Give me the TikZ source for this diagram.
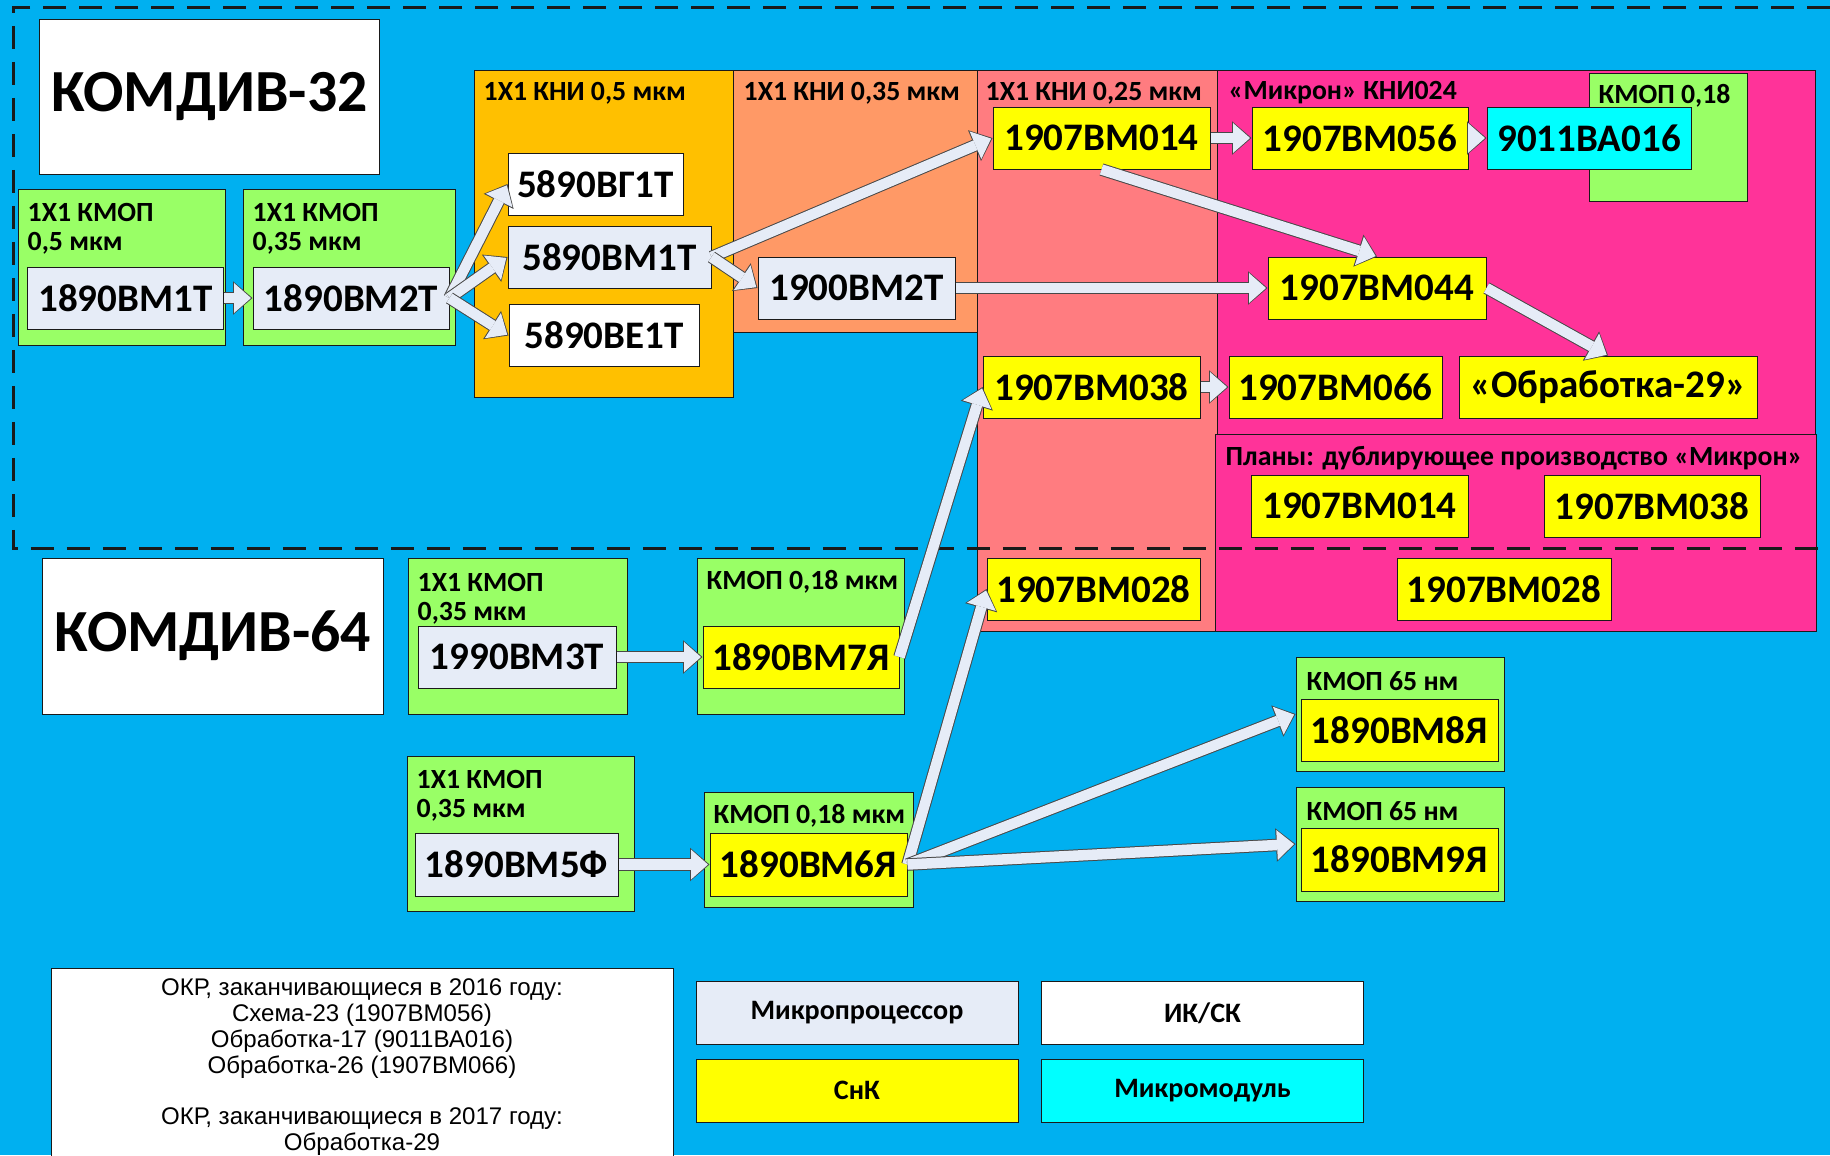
\documentclass[tikz,border=0pt]{standalone}
\usepackage{fontspec}
\setmainfont{Carlito}
\newfontfamily\notefamily{Liberation Sans}
\usetikzlibrary{arrows.meta}

\definecolor{sky}{HTML}{00B0F0}
\definecolor{kmop}{HTML}{99FF66}
\definecolor{cpu}{HTML}{E6ECF7}
\definecolor{kniA}{HTML}{FFC000}
\definecolor{kniB}{HTML}{FF9966}
\definecolor{kniC}{HTML}{FF7C80}
\definecolor{mikron}{HTML}{FF3399}
\definecolor{snk}{HTML}{FFFF00}
\definecolor{module}{HTML}{00FFFF}
\definecolor{edge}{HTML}{1A1A1A}

\newcommand\chipfont{\fontsize{11.1}{12}\selectfont\bfseries}
\newcommand\tagfont{\fontsize{7.9}{9}\selectfont\bfseries}
\newcommand\keyfont{\fontsize{8}{9}\selectfont\bfseries}
\newcommand\titlefont{\fontsize{17}{19}\selectfont\bfseries}
\newcommand\notefont{\notefamily\fontsize{6.85}{7.35}\selectfont}

\tikzset{
  zone/.style={draw=edge, line width=0.1mm, inner sep=0pt},
  chip/.style={draw=edge, line width=0.1mm, minimum height=6.2mm, inner sep=0pt, font=\chipfont},
  tag/.style={anchor=west, inner sep=0pt, font=\tagfont},
  key/.style={draw=edge, line width=0.1mm, minimum width=32.2mm, minimum height=6.3mm, font=\keyfont},
  flow/.style={draw=cpu, line width=1.05mm, shorten >=0.15mm,
    -{Triangle[length=1.7mm, width=3mm, line width=0pt]},
    preaction={draw=edge!80, line width=1.25mm, shorten >=0mm,
      -{Triangle[length=1.95mm, width=3.35mm, line width=0pt]}}},
}

\begin{document}
\begin{tikzpicture}[x=0.1mm, y=-0.1mm]
  \useasboundingbox (0,0) rectangle (1830,1155);
  \fill[sky] (0,0) rectangle (1830,1155);

  % Zonas de tecnologia
  \node[zone, fill=kniA, minimum width=25.9mm, minimum height=32.7mm] (box05) at (603.5,233.5) {};
  \node[zone, fill=kniB, minimum width=24.5mm, minimum height=26.2mm] (box035) at (855.5,201) {};
  \node[zone, fill=kniC, minimum width=24.0mm, minimum height=56.1mm] (box025) at (1097,350.5) {};
  \node[zone, fill=mikron, minimum width=59.8mm, minimum height=36.4mm] (boxmik) at (1516,252) {};
  \node[zone, fill=mikron, minimum width=60.1mm, minimum height=19.7mm] (boxplan) at (1515.5,532.5) {};
  \node[zone, fill=kmop, minimum width=15.8mm, minimum height=12.8mm] (boxk018) at (1668,137) {};

  \node[tag] at (483,93) {1X1 КНИ 0,5 мкм};
  \node[tag] at (743,93) {1X1 КНИ 0,35 мкм};
  \node[tag] at (985,93) {1X1 КНИ 0,25 мкм};
  \node[tag] at (1228,93) {«Микрон» КНИ024};
  \node[tag] at (1598,96) {КМОП 0,18};
  \node[tag] at (1225,458) {Планы: дублирующее производство «Микрон»};

  % КОМДИВ-32
  \node[zone, fill=white, minimum width=34.1mm, minimum height=15.5mm, font=\titlefont] (kd32) at (209.5,96.5) {КОМДИВ-32};
  \node[zone, fill=kmop, minimum width=20.8mm, minimum height=15.6mm] (gr1) at (122,267) {};
  \node[zone, fill=kmop, minimum width=21.2mm, minimum height=15.6mm] (gr2) at (349,267) {};
  \node[tag] at (27,212) {1X1 КМОП};
  \node[tag] at (27,243) {0,5 мкм};
  \node[tag] at (252,212) {1X1 КМОП};
  \node[tag] at (252,243) {0,35 мкм};

  \node[chip, fill=cpu, minimum width=19.7mm] (bm1t) at (125.5,298) {1890ВМ1Т};
  \node[chip, fill=cpu, minimum width=19.6mm] (bm2t) at (351,298) {1890ВМ2Т};
  \node[chip, fill=white, minimum width=17.5mm] (vg1t) at (595.5,184) {5890ВГ1Т};
  \node[chip, fill=cpu, minimum width=20.3mm] (v5m1t) at (609.5,257) {5890ВМ1Т};
  \node[chip, fill=white, minimum width=19.0mm] (ve1t) at (604,335.5) {5890ВЕ1Т};
  \node[chip, fill=cpu, minimum width=19.7mm] (v1900) at (856.5,288) {1900ВМ2Т};
  \node[chip, fill=snk, minimum width=21.7mm] (v014) at (1101.5,138) {1907ВМ014};
  \node[chip, fill=snk, minimum width=21.6mm] (v056) at (1360,138) {1907ВМ056};
  \node[chip, fill=module, minimum width=20.4mm] (v016) at (1589,138) {9011ВА016};
  \node[chip, fill=snk, minimum width=21.8mm] (v044) at (1377,288) {1907ВМ044};
  \node[chip, fill=snk, minimum width=21.7mm] (v038) at (1091.5,387) {1907ВМ038};
  \node[chip, fill=snk, minimum width=21.3mm] (v066) at (1335.5,387) {1907ВМ066};
  \node[chip, fill=snk, minimum width=29.8mm] (obr29) at (1608,387) {«Обработка-29»};
  \node[chip, fill=snk, minimum width=21.7mm] (p014) at (1359.5,506) {1907ВМ014};
  \node[chip, fill=snk, minimum width=21.6mm] (p038) at (1652,506) {1907ВМ038};
  \node[chip, fill=snk, minimum width=21.3mm] (v028a) at (1093.5,589) {1907ВМ028};
  \node[chip, fill=snk, minimum width=21.4mm] (v028b) at (1504,589) {1907ВМ028};

  % Granica
  \draw[edge, line width=0.3mm, dash pattern=on 2.3mm off 1.3mm] (1830,7) -- (13,7) -- (13,548) -- (1825,548);

  % КОМДИВ-64
  \node[zone, fill=white, minimum width=34.2mm, minimum height=15.6mm, font=\titlefont] (kd64) at (213,636) {КОМДИВ-64};
  \node[zone, fill=kmop, minimum width=21.9mm, minimum height=15.6mm] (gr3t) at (517.5,636) {};
  \node[zone, fill=kmop, minimum width=20.7mm, minimum height=15.6mm] (gr7ya) at (800.5,636) {};
  \node[zone, fill=kmop, minimum width=22.7mm, minimum height=15.5mm] (gr5f) at (520.5,833.5) {};
  \node[zone, fill=kmop, minimum width=20.9mm, minimum height=11.5mm] (gr6ya) at (808.5,849.5) {};
  \node[zone, fill=kmop, minimum width=20.8mm, minimum height=11.4mm] (gr8ya) at (1400,714) {};
  \node[zone, fill=kmop, minimum width=20.8mm, minimum height=11.4mm] (gr9ya) at (1400,844) {};
  \node[tag] at (417,582) {1X1 КМОП};
  \node[tag] at (417,613) {0,35 мкм};
  \node[tag] at (706,582) {КМОП 0,18 мкм};
  \node[tag] at (416,779) {1X1 КМОП};
  \node[tag] at (416,810) {0,35 мкм};
  \node[tag] at (713,816) {КМОП 0,18 мкм};
  \node[tag] at (1306,681) {КМОП 65 нм};
  \node[tag] at (1306,811) {КМОП 65 нм};

  \node[chip, fill=cpu, minimum width=19.8mm] (v3t) at (517,657) {1990ВМ3Т};
  \node[chip, fill=snk, minimum width=19.6mm] (v7ya) at (801,657) {1890ВМ7Я};
  \node[chip, fill=cpu, minimum width=20.3mm, minimum height=6.3mm] (v5f) at (516.5,864.5) {1890ВМ5Ф};
  \node[chip, fill=snk, minimum width=19.7mm, minimum height=6.3mm] (v6ya) at (808.5,864.5) {1890ВМ6Я};
  \node[chip, fill=snk, minimum width=19.7mm] (v8ya) at (1399.5,730) {1890ВМ8Я};
  \node[chip, fill=snk, minimum width=19.7mm, minimum height=6.3mm] (v9ya) at (1399.5,859.5) {1890ВМ9Я};

  % Strelki
  \draw[flow] (bm1t) -- (bm2t);
  \draw[flow] (bm2t.east) -- (vg1t.west);
  \draw[flow] (bm2t.east) -- (v5m1t.west);
  \draw[flow] (bm2t.east) -- (ve1t.west);
  \draw[flow] (v5m1t.east) -- (v014.west);
  \draw[flow] (v5m1t.east) -- (v1900.west);
  \draw[flow] (v1900) -- (v044);
  \draw[flow] (v014) -- (v056);
  \draw[flow] (v056) -- (v016);
  \draw[flow] (v014.south) -- (v044.north);
  \draw[flow] (v044.east) -- (obr29.north);
  \draw[flow] (v038) -- (v066);
  \draw[flow] (v3t) -- (v7ya);
  \draw[flow] (v5f) -- (v6ya);
  \draw[flow] (v7ya.east) -- (v038.west);
  \draw[flow] (v6ya.east) -- (v028a.west);
  \draw[flow] (v6ya.east) -- (gr8ya.west);
  \draw[flow] (v6ya.east) -- (gr9ya.west);

  % Legenda
  \draw[edge, line width=0.1mm, fill=white] (51,968) rectangle (673,1162);
  \node[anchor=north, align=center, inner sep=0pt, font=\notefont] (note) at (362,978)
    {ОКР, заканчивающиеся в 2016 году:\\Схема-23 (1907ВМ056)\\Обработка-17 (9011ВА016)\\Обработка-26 (1907ВМ066)\\[2.6mm]ОКР, заканчивающиеся в 2017 году:\\Обработка-29};
  \node[key, fill=cpu] (kcpu) at (857,1013) {Микропроцессор};
  \node[key, fill=white] (kik) at (1202.5,1013) {ИК/СК};
  \node[key, fill=snk] (ksnk) at (857,1090.5) {СнК};
  \node[key, fill=module] (kmod) at (1202.5,1090.5) {Микромодуль};
\end{tikzpicture}
\end{document}
